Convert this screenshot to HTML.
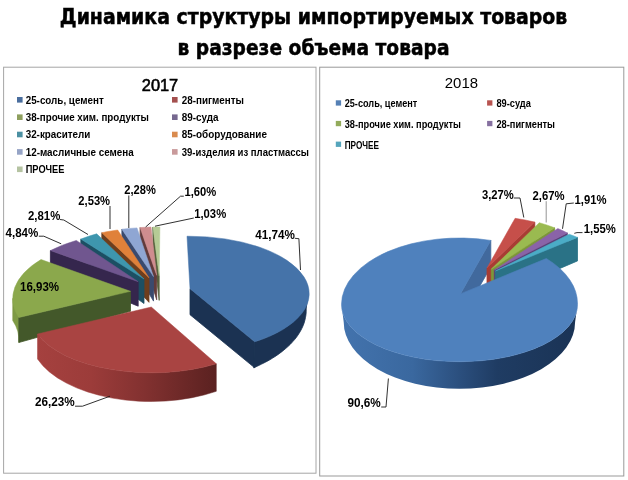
<!DOCTYPE html>
<html lang="ru"><head><meta charset="utf-8"><title>Динамика структуры импортируемых товаров</title>
<style>html,body{margin:0;padding:0;background:#fff}svg{display:block}text{font-family:"Liberation Sans",sans-serif}</style>
</head><body>
<svg width="628" height="480" viewBox="0 0 628 480">
<rect x="0" y="0" width="628" height="480" fill="#fff"/>
<text x="59.8" y="23.7" font-size="21.3" font-weight="bold" fill="#000" textLength="507.5" lengthAdjust="spacingAndGlyphs" stroke="#000" stroke-width="0.5" style='font-family:"DejaVu Sans","Liberation Sans",sans-serif'>Динамика структуры импортируемых товаров</text>
<text x="177.5" y="55.3" font-size="21.3" font-weight="bold" fill="#000" textLength="272" lengthAdjust="spacingAndGlyphs" stroke="#000" stroke-width="0.5" style='font-family:"DejaVu Sans","Liberation Sans",sans-serif'>в разрезе объема товара</text>
<rect x="3.6" y="67.2" width="312.4" height="406" fill="#fff" stroke="#A6A6A6" stroke-width="1"/>
<rect x="319.7" y="67.2" width="304.1" height="408.8" fill="#fff" stroke="#999" stroke-width="1"/>
<text x="141.8" y="90.9" font-size="15.8" font-weight="normal" fill="#000" textLength="36.4" lengthAdjust="spacingAndGlyphs" stroke="#000" stroke-width="0.55">2017</text>
<text x="444.8" y="87.5" font-size="14" font-weight="normal" fill="#000" textLength="33.2" lengthAdjust="spacingAndGlyphs">2018</text>
<rect x="17" y="97" width="5.6" height="5.6" fill="#4A6E9E"/>
<text x="25.7" y="103.7" font-size="10.5" font-weight="bold" fill="#000" textLength="78" lengthAdjust="spacingAndGlyphs">25-соль, цемент</text>
<rect x="17" y="114.4" width="5.6" height="5.6" fill="#8E9F5E"/>
<text x="25.7" y="121.1" font-size="10.5" font-weight="bold" fill="#000" textLength="123.3" lengthAdjust="spacingAndGlyphs">38-прочие хим. продукты</text>
<rect x="17" y="131.7" width="5.6" height="5.6" fill="#4B90A2"/>
<text x="25.7" y="138.4" font-size="10.5" font-weight="bold" fill="#000" textLength="64.7" lengthAdjust="spacingAndGlyphs">32-красители</text>
<rect x="17" y="149.1" width="5.6" height="5.6" fill="#96A4C6"/>
<text x="25.7" y="155.8" font-size="10.5" font-weight="bold" fill="#000" textLength="108.1" lengthAdjust="spacingAndGlyphs">12-масличные семена</text>
<rect x="17" y="166.5" width="5.6" height="5.6" fill="#B5C3A2"/>
<text x="25.7" y="173.2" font-size="10.5" font-weight="bold" fill="#000" textLength="38.8" lengthAdjust="spacingAndGlyphs">ПРОЧЕЕ</text>
<rect x="172" y="97" width="5.6" height="5.6" fill="#A4504E"/>
<text x="181.7" y="103.7" font-size="10.5" font-weight="bold" fill="#000" textLength="62.3" lengthAdjust="spacingAndGlyphs">28-пигменты</text>
<rect x="172" y="114.4" width="5.6" height="5.6" fill="#76688F"/>
<text x="181.7" y="121.1" font-size="10.5" font-weight="bold" fill="#000" textLength="36.9" lengthAdjust="spacingAndGlyphs">89-суда</text>
<rect x="172" y="131.7" width="5.6" height="5.6" fill="#D98B4F"/>
<text x="181.7" y="138.4" font-size="10.5" font-weight="bold" fill="#000" textLength="85.3" lengthAdjust="spacingAndGlyphs">85-оборудование</text>
<rect x="172" y="149.1" width="5.6" height="5.6" fill="#C99A9B"/>
<text x="181.7" y="155.8" font-size="10.5" font-weight="bold" fill="#000" textLength="127.3" lengthAdjust="spacingAndGlyphs">39-изделия из пластмассы</text>
<rect x="335.8" y="100.3" width="5.3" height="5.3" fill="#5580B5"/>
<text x="344.7" y="107.2" font-size="10.2" font-weight="bold" fill="#000" textLength="72.6" lengthAdjust="spacingAndGlyphs">25-соль, цемент</text>
<rect x="335.8" y="120.9" width="5.3" height="5.3" fill="#93AB5B"/>
<text x="344.7" y="127.8" font-size="10.2" font-weight="bold" fill="#000" textLength="116.2" lengthAdjust="spacingAndGlyphs">38-прочие хим. продукты</text>
<rect x="335.8" y="141.6" width="5.3" height="5.3" fill="#55A5BC"/>
<text x="344.7" y="148.5" font-size="10.2" font-weight="bold" fill="#000" textLength="34.3" lengthAdjust="spacingAndGlyphs">ПРОЧЕЕ</text>
<rect x="487.1" y="100.3" width="5.3" height="5.3" fill="#B85450"/>
<text x="496.4" y="107.2" font-size="10.2" font-weight="bold" fill="#000" textLength="34.5" lengthAdjust="spacingAndGlyphs">89-суда</text>
<rect x="487.1" y="120.9" width="5.3" height="5.3" fill="#8670A0"/>
<text x="496.4" y="127.8" font-size="10.2" font-weight="bold" fill="#000" textLength="58.6" lengthAdjust="spacingAndGlyphs">28-пигменты</text>
<defs><linearGradient id="gRed" x1="37" x2="217" y1="0" y2="0" gradientUnits="userSpaceOnUse"><stop offset="0" stop-color="#A5413F"/><stop offset="0.3" stop-color="#9C3C3A"/><stop offset="0.6" stop-color="#823130"/><stop offset="1" stop-color="#5A2120"/></linearGradient></defs>
<path d="M159.2 275.9 L152.9 227 L152.9 246 L159.2 300.4 Z" fill="#55613C" stroke="#55613C" stroke-width="0.8" stroke-linejoin="round"/>
<path d="M159.2 275.9 L152.9 227 A120.5 57.5 0 0 1 159.9 227 Z" fill="#B5CB95" stroke="#B5CB95" stroke-width="0.5" stroke-linejoin="round"/>
<path d="M156.7 275.3 L140.1 227.6 L140.1 246.6 L156.7 299.8 Z" fill="#623B3B" stroke="#623B3B" stroke-width="0.8" stroke-linejoin="round"/>
<path d="M156.7 275.3 L140.1 227.6 A120.5 57.5 0 0 1 151 227 Z" fill="#CF8D8F" stroke="#CF8D8F" stroke-width="0.5" stroke-linejoin="round"/>
<path d="M153.5 276.6 L121.9 229.2 L121.9 248.2 L153.5 301.1 Z" fill="#3A4A6E" stroke="#3A4A6E" stroke-width="0.8" stroke-linejoin="round"/>
<path d="M153.5 276.6 L121.9 229.2 A120.5 57.5 0 0 1 137 227.9 Z" fill="#8FA6D3" stroke="#8FA6D3" stroke-width="0.5" stroke-linejoin="round"/>
<path d="M149 277.8 L101.8 232.7 L101.8 251.7 L149 302.3 Z" fill="#6E3E1D" stroke="#6E3E1D" stroke-width="0.8" stroke-linejoin="round"/>
<path d="M149 277.8 L101.8 232.7 A120.5 57.5 0 0 1 117.7 230 Z" fill="#E0813A" stroke="#E0813A" stroke-width="0.5" stroke-linejoin="round"/>
<path d="M144 279 L80.8 239.1 L80.8 258.1 L144 303.5 Z" fill="#1C4F63" stroke="#1C4F63" stroke-width="0.8" stroke-linejoin="round"/>
<path d="M144 279 L80.8 239.1 A120.5 57.5 0 0 1 96.7 233.8 Z" fill="#3E96AE" stroke="#3E96AE" stroke-width="0.5" stroke-linejoin="round"/>
<path d="M138.2 281.7 L50.4 250.6 L50.4 269.6 L138.2 306.2 Z" fill="#35264D" stroke="#35264D" stroke-width="0.8" stroke-linejoin="round"/>
<path d="M138.2 281.7 L50.4 250.6 A120.5 57.5 0 0 1 76.3 240.4 Z" fill="#70568F" stroke="#70568F" stroke-width="0.5" stroke-linejoin="round"/>
<path d="M12.7 298.5 A132.5 63.3 0 0 1 18.8 317.5 L18.8 342.5 A132.5 63.3 0 0 0 12.7 320.5 Z" fill="#7E9A45" stroke="#7E9A45" stroke-width="0.5" stroke-linejoin="round"/>
<path d="M130.5 291.3 L18.8 317.5 L18.8 342.5 L130.5 311.3 Z" fill="#43582A" stroke="#43582A" stroke-width="0.8" stroke-linejoin="round"/>
<path d="M130.5 291.3 L18.8 317.5 A132.5 63.3 0 0 1 41 259.5 Z" fill="#8BA84C" stroke="#8BA84C" stroke-width="0.5" stroke-linejoin="round"/>
<path d="M190 288.7 L254.7 341.8 L254.7 367.8 L190 314.7 Z" fill="#1B3252" stroke="#1B3252" stroke-width="0.8" stroke-linejoin="round"/>
<path d="M308 293 L308 295.4 L307.8 297.8 L307.3 300.2 L306.7 302.5 L305.9 304.9 L304.8 307.2 L303.6 309.5 L302.1 311.8 L300.5 314.1 L298.6 316.3 L296.6 318.5 L294.4 320.6 L292 322.7 L289.4 324.8 L286.6 326.8 L283.7 328.7 L280.6 330.6 L277.3 332.4 L273.9 334.2 L270.3 335.8 L266.6 337.4 L262.8 339 L258.8 340.4 L254.7 341.8 L253.7 367.8 L257.7 366 L261.6 364.1 L265.4 362.2 L269.1 360.2 L272.6 358.1 L276 355.9 L279.2 353.7 L282.2 351.4 L285.1 349 L287.9 346.6 L290.4 344.2 L292.8 341.6 L295 339.1 L297 336.5 L298.8 333.8 L300.4 331.2 L301.8 328.5 L303.1 325.7 L304.1 323 L304.9 320.2 L305.5 317.4 L306 314.6 L306.2 311.8 L306.2 309 Z" fill="#1B3252" stroke="#1B3252" stroke-width="0.8" stroke-linejoin="round"/>
<path d="M190 288.7 L187 236.2 A120.5 57.5 0 0 1 254.7 341.8 Z" fill="#4573A9" stroke="#4573A9" stroke-width="0.5" stroke-linejoin="round"/>
<path d="M216.3 363.8 A120.5 57.5 0 0 1 37.5 334 L37.5 359 A120.5 64 0 0 0 216.3 391.3 Z" fill="url(#gRed)" stroke="url(#gRed)" stroke-width="0.5" stroke-linejoin="round"/>
<path d="M151.3 307 L216.3 363.8 A120.5 57.5 0 0 1 37.5 334 Z" fill="#A94442" stroke="#A94442" stroke-width="0.5" stroke-linejoin="round"/>
<defs><linearGradient id="gBlue" x1="342" x2="577" y1="0" y2="0" gradientUnits="userSpaceOnUse"><stop offset="0" stop-color="#4373AD"/><stop offset="0.3" stop-color="#3A689F"/><stop offset="0.5" stop-color="#2B4F7E"/><stop offset="0.66" stop-color="#1F3C63"/><stop offset="1" stop-color="#1A3355"/></linearGradient></defs>
<path d="M460.4 293.9 L490.8 240.4 L490.8 266.9 L460.4 319.9 Z" fill="#41699D" stroke="#41699D" stroke-width="0.8" stroke-linejoin="round"/>
<path d="M487 268 L534.8 222.1 L534.8 245.6 L487 293 Z" fill="#A83C34" stroke="#A83C34" stroke-width="0.8" stroke-linejoin="round"/>
<path d="M487 268 L515.1 218.3 A118 61.5 0 0 1 534.8 222.1 Z" fill="#C64F4A" stroke="#C64F4A" stroke-width="0.5" stroke-linejoin="round"/>
<path d="M491.3 269.1 L554.6 227.8 L554.6 251.3 L491.3 294.1 Z" fill="#7C973A" stroke="#7C973A" stroke-width="0.8" stroke-linejoin="round"/>
<path d="M491.3 269.1 L539.3 222.7 A118 61.5 0 0 1 554.6 227.8 Z" fill="#9ABA50" stroke="#9ABA50" stroke-width="0.5" stroke-linejoin="round"/>
<path d="M494.3 270 L567.3 232.9 L567.3 256.4 L494.3 295 Z" fill="#5A3F78" stroke="#5A3F78" stroke-width="0.8" stroke-linejoin="round"/>
<path d="M494.3 270 L557.8 228.5 A118 61.5 0 0 1 567.3 232.9 Z" fill="#8A63A8" stroke="#8A63A8" stroke-width="0.5" stroke-linejoin="round"/>
<path d="M495.5 271 L577.5 237.4 L577.5 260.9 L495.5 296 Z" fill="#2A7286" stroke="#2A7286" stroke-width="0.8" stroke-linejoin="round"/>
<path d="M495.5 271 L569.2 234.2 A118 61.5 0 0 1 577.5 237.4 Z" fill="#4BACC6" stroke="#4BACC6" stroke-width="0.5" stroke-linejoin="round"/>
<path d="M577.5 304.5 A118 57.2 0 0 1 459.5 361.7 A118 57.2 0 0 1 341.5 304.5 L343.7 322 A115.7 66.8 0 0 0 459.4 388.8 A115.7 66.8 0 0 0 575.1 322 Z" fill="url(#gBlue)"/>
<path d="M460.4 293.9 L546.3 258.5 A118 66.5 0 0 1 577.5 304.5 A118 57.2 0 0 1 459.5 361.7 A118 57.2 0 0 1 341.5 304.5 A118 66.5 0 0 1 490.8 240.4 Z" fill="#4F81BD" stroke="#4F81BD" stroke-width="0.6" stroke-linejoin="round"/>
<polyline points="128.8,195.5 128.8,228" fill="none" stroke="#1a1a1a" stroke-width="0.9"/>
<polyline points="110,206 110,229" fill="none" stroke="#1a1a1a" stroke-width="0.9"/>
<polyline points="60,219.5 63.8,220 88,234.5" fill="none" stroke="#1a1a1a" stroke-width="0.9"/>
<polyline points="38.8,236.2 43.8,236.2 61.2,243.8" fill="none" stroke="#1a1a1a" stroke-width="0.9"/>
<polyline points="183.8,196.2 180.5,196.2 145.6,227" fill="none" stroke="#1a1a1a" stroke-width="0.9"/>
<polyline points="193.8,218 155,226.2" fill="none" stroke="#1a1a1a" stroke-width="0.9"/>
<polyline points="294.8,238.3 298.9,238.7 300.5,270" fill="none" stroke="#1a1a1a" stroke-width="0.9"/>
<polyline points="75,406.2 82.5,406.2 110,396.2" fill="none" stroke="#1a1a1a" stroke-width="0.9"/>
<text x="124.3" y="193.9" font-size="12.3" font-weight="bold" fill="#000" textLength="31.5" lengthAdjust="spacingAndGlyphs">2,28%</text>
<text x="78.3" y="204.5" font-size="12.3" font-weight="bold" fill="#000" textLength="31.8" lengthAdjust="spacingAndGlyphs">2,53%</text>
<text x="28" y="219.5" font-size="12.3" font-weight="bold" fill="#000" textLength="32.3" lengthAdjust="spacingAndGlyphs">2,81%</text>
<text x="5.5" y="236.5" font-size="12.3" font-weight="bold" fill="#000" textLength="32.8" lengthAdjust="spacingAndGlyphs">4,84%</text>
<text x="184.5" y="196.4" font-size="12.3" font-weight="bold" fill="#000" textLength="31.8" lengthAdjust="spacingAndGlyphs">1,60%</text>
<text x="194.2" y="218.2" font-size="12.3" font-weight="bold" fill="#000" textLength="32" lengthAdjust="spacingAndGlyphs">1,03%</text>
<text x="255.3" y="239" font-size="12.3" font-weight="bold" fill="#000" textLength="39.6" lengthAdjust="spacingAndGlyphs">41,74%</text>
<text x="20" y="290.9" font-size="12.3" font-weight="bold" fill="#000" textLength="39.1" lengthAdjust="spacingAndGlyphs">16,93%</text>
<text x="35" y="406.2" font-size="12.3" font-weight="bold" fill="#000" textLength="39.8" lengthAdjust="spacingAndGlyphs">26,23%</text>
<polyline points="513.8,198 520,198 523.8,217.5" fill="none" stroke="#1a1a1a" stroke-width="0.9"/>
<polyline points="546.2,201.2 546.2,222.5" fill="none" stroke="#888" stroke-width="0.9"/>
<polyline points="573.8,203 566.2,203.8 562.5,228.8" fill="none" stroke="#1a1a1a" stroke-width="0.9"/>
<polyline points="582.5,232.6 577,232.6 574.3,233.3" fill="none" stroke="#1a1a1a" stroke-width="0.9"/>
<polyline points="381.2,407 386,407 388.4,378.5" fill="none" stroke="#1a1a1a" stroke-width="0.9"/>
<text x="482" y="198.9" font-size="12.3" font-weight="bold" fill="#000" textLength="31.8" lengthAdjust="spacingAndGlyphs">3,27%</text>
<text x="532.5" y="199.7" font-size="12.3" font-weight="bold" fill="#000" textLength="32" lengthAdjust="spacingAndGlyphs">2,67%</text>
<text x="574.5" y="203.9" font-size="12.3" font-weight="bold" fill="#000" textLength="32" lengthAdjust="spacingAndGlyphs">1,91%</text>
<text x="583.8" y="233.2" font-size="12.3" font-weight="bold" fill="#000" textLength="32" lengthAdjust="spacingAndGlyphs">1,55%</text>
<text x="347.5" y="407.2" font-size="12.3" font-weight="bold" fill="#000" textLength="33.3" lengthAdjust="spacingAndGlyphs">90,6%</text>
</svg>
</body></html>
